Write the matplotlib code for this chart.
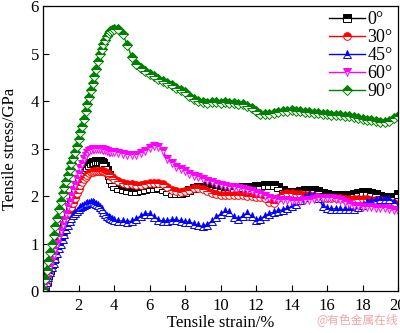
import matplotlib
matplotlib.use('Agg')
import matplotlib.pyplot as plt
import numpy as np

plt.rcParams['font.family'] = ['Liberation Serif', 'DejaVu Serif']

# strain grid: fine in the elastic part, coarser afterwards
strain_rise = np.round(np.arange(0, 4.0, 0.1), 2)
strain_flow = np.round(np.arange(4.0, 20.01, 0.25), 2)
strain = np.concatenate([strain_rise, strain_flow])

labels = ['0°', '30°', '45°', '60°', '90°']

s0 = [0.0, 0.11, 0.22, 0.34, 0.45, 0.57, 0.68, 0.8, 0.91, 1.03, 1.14, 1.26, 1.37, 1.49, 1.6, 1.72, 1.83, 1.95, 2.06, 2.17,
      2.27, 2.36, 2.44, 2.51, 2.57, 2.62, 2.66, 2.69, 2.71, 2.72, 2.73, 2.74, 2.74, 2.72, 2.69, 2.63, 2.55, 2.45, 2.36, 2.28,
      2.22, 2.17, 2.14, 2.12, 2.11, 2.1, 2.12, 2.14, 2.16, 2.17, 2.18, 2.15, 2.1, 2.07, 2.06, 2.06, 2.08, 2.12, 2.16, 2.18,
      2.2, 2.21, 2.19, 2.16, 2.14, 2.13, 2.13, 2.15, 2.17, 2.18, 2.19, 2.2, 2.21, 2.22, 2.23, 2.24, 2.24, 2.2, 2.13, 2.09,
      2.08, 2.09, 2.11, 2.12, 2.13, 2.13, 2.1, 2.06, 2.04, 2.03, 2.03, 2.03, 2.03, 2.03, 2.04, 2.06, 2.08, 2.08, 2.07, 2.04,
      2.0, 1.97, 1.96, 1.99, 2.05]

s30 = [0.0, 0.11, 0.22, 0.33, 0.44, 0.55, 0.66, 0.77, 0.88, 0.99, 1.1, 1.21, 1.32, 1.43, 1.54, 1.65, 1.76, 1.86, 1.96, 2.06,
       2.15, 2.23, 2.3, 2.36, 2.41, 2.45, 2.48, 2.5, 2.51, 2.52, 2.52, 2.53, 2.53, 2.53, 2.52, 2.51, 2.49, 2.46, 2.43, 2.4,
       2.36, 2.31, 2.28, 2.26, 2.25, 2.24, 2.24, 2.26, 2.27, 2.28, 2.28, 2.25, 2.19, 2.13, 2.1, 2.09, 2.1, 2.13, 2.16, 2.16,
       2.14, 2.1, 2.06, 2.04, 2.03, 2.03, 2.02, 2.02, 2.02, 2.02, 2.01, 2.0, 1.99, 1.98, 1.95, 1.88, 1.86, 1.95, 2.05, 2.06,
       2.06, 2.05, 2.04, 2.03, 2.02, 2.0, 1.97, 1.96, 1.96, 1.96, 1.95, 1.95, 1.94, 1.94, 1.93, 1.93, 1.93, 1.93, 1.92, 1.92,
       1.92, 1.9, 1.88, 1.85, 1.82]

s45 = [0.0, 0.1, 0.2, 0.3, 0.4, 0.5, 0.6, 0.7, 0.8, 0.9, 1.0, 1.1, 1.2, 1.3, 1.39, 1.47, 1.54, 1.6, 1.65, 1.69,
       1.73, 1.76, 1.79, 1.81, 1.83, 1.85, 1.86, 1.87, 1.87, 1.86, 1.84, 1.81, 1.77, 1.72, 1.67, 1.62, 1.58, 1.55, 1.53, 1.51,
       1.5, 1.48, 1.47, 1.46, 1.47, 1.52, 1.58, 1.63, 1.62, 1.56, 1.5, 1.47, 1.48, 1.5, 1.5, 1.48, 1.46, 1.45, 1.42, 1.38,
       1.36, 1.4, 1.47, 1.55, 1.62, 1.68, 1.66, 1.55, 1.52, 1.58, 1.64, 1.58, 1.5, 1.52, 1.58, 1.63, 1.66, 1.69, 1.71, 1.74,
       1.78, 1.84, 1.92, 1.98, 2.02, 2.03, 1.96, 1.8, 1.74, 1.73, 1.73, 1.72, 1.72, 1.72, 1.73, 1.76, 1.82, 1.87, 1.9, 1.92,
       1.93, 1.94, 1.94, 1.88, 1.8]

s60 = [0.0, 0.12, 0.25, 0.38, 0.5, 0.63, 0.76, 0.88, 1.0, 1.13, 1.26, 1.38, 1.5, 1.63, 1.76, 1.88, 2.0, 2.12, 2.24, 2.36,
       2.47, 2.58, 2.68, 2.77, 2.85, 2.91, 2.95, 2.97, 2.98, 2.99, 2.99, 2.99, 2.98, 2.98, 2.97, 2.96, 2.95, 2.93, 2.92, 2.92,
       2.92, 2.91, 2.89, 2.87, 2.86, 2.87, 2.9, 2.95, 3.02, 3.05, 3.04, 2.95, 2.78, 2.7, 2.62, 2.56, 2.52, 2.47, 2.43, 2.39,
       2.35, 2.32, 2.29, 2.26, 2.24, 2.22, 2.2, 2.18, 2.16, 2.14, 2.12, 2.1, 2.07, 2.04, 2.0, 1.96, 1.93, 1.92, 1.92, 1.91,
       1.9, 1.9, 1.9, 1.91, 1.92, 1.94, 1.95, 1.96, 1.96, 1.96, 1.94, 1.92, 1.88, 1.84, 1.8, 1.78, 1.77, 1.76, 1.76, 1.75,
       1.74, 1.74, 1.72, 1.7, 1.68]

s90 = [0.05, 0.25, 0.45, 0.63, 0.82, 1.0, 1.18, 1.36, 1.54, 1.72, 1.9, 2.06, 2.19, 2.31, 2.44, 2.56, 2.69, 2.81, 2.93, 3.05,
       3.2, 3.34, 3.48, 3.63, 3.78, 3.93, 4.08, 4.23, 4.38, 4.53, 4.68, 4.84, 5.0, 5.1, 5.2, 5.29, 5.37, 5.43, 5.47, 5.5,
       5.52, 5.52, 5.4, 5.18, 4.92, 4.78, 4.7, 4.63, 4.57, 4.52, 4.47, 4.42, 4.38, 4.33, 4.28, 4.24, 4.18, 4.1, 4.04, 4.0,
       3.97, 3.96, 3.97, 3.97, 3.96, 3.97, 3.96, 3.95, 3.94, 3.93, 3.9, 3.85, 3.78, 3.73, 3.72, 3.73, 3.74, 3.76, 3.78, 3.8,
       3.82, 3.8, 3.78, 3.77, 3.76, 3.75, 3.74, 3.72, 3.73, 3.71, 3.7, 3.71, 3.69, 3.68, 3.66, 3.65, 3.63, 3.61, 3.6, 3.58,
       3.55, 3.55, 3.58, 3.64, 3.68]

stress = [s0, s30, s45, s60, s90]
colors = ['black', 'red', 'blue', 'magenta', 'green']
markers = ['s', 'o', '^', 'v', 'D']

fig = plt.figure(figsize=(4.0, 3.33), dpi=100)
ax = fig.add_axes([0.1075, 0.126, 0.8875, 0.856])

for y, c, m, lab in zip(stress, colors, markers, labels):
    ax.plot(strain, y, color=c, lw=1.0, marker=m, ms=5.5, mew=0.7,
            fillstyle='top', markerfacecoloralt='white', mec=c, label=lab)

ax.set_xlim(0, 20)
ax.set_ylim(0, 6)
ax.set_xticks(range(2, 21, 2))
ax.set_yticks(range(0, 7))
ax.tick_params(direction='in', labelsize=12, length=4, width=0.8, pad=3)
ax.tick_params(axis='x', pad=5)
for sp in ax.spines.values():
    sp.set_linewidth(0.9)

ax.set_xlabel('Tensile strain/%', fontsize=12, labelpad=1)
ax.set_ylabel('Tensile stress/GPa', fontsize=12, labelpad=9)

leg = ax.legend(loc='upper right', frameon=False, fontsize=13, handlelength=2.0,
                handletextpad=0.15, labelspacing=0.05, borderaxespad=0.1,
                borderpad=0.2)

fig.text(0.995, 0.02, '@有色金属在线', color='#f2a6a6', fontsize=8.5, ha='right', va='bottom',
         family=['Noto Sans CJK SC', 'DejaVu Sans'])

fig.savefig('out.png', dpi=100)
